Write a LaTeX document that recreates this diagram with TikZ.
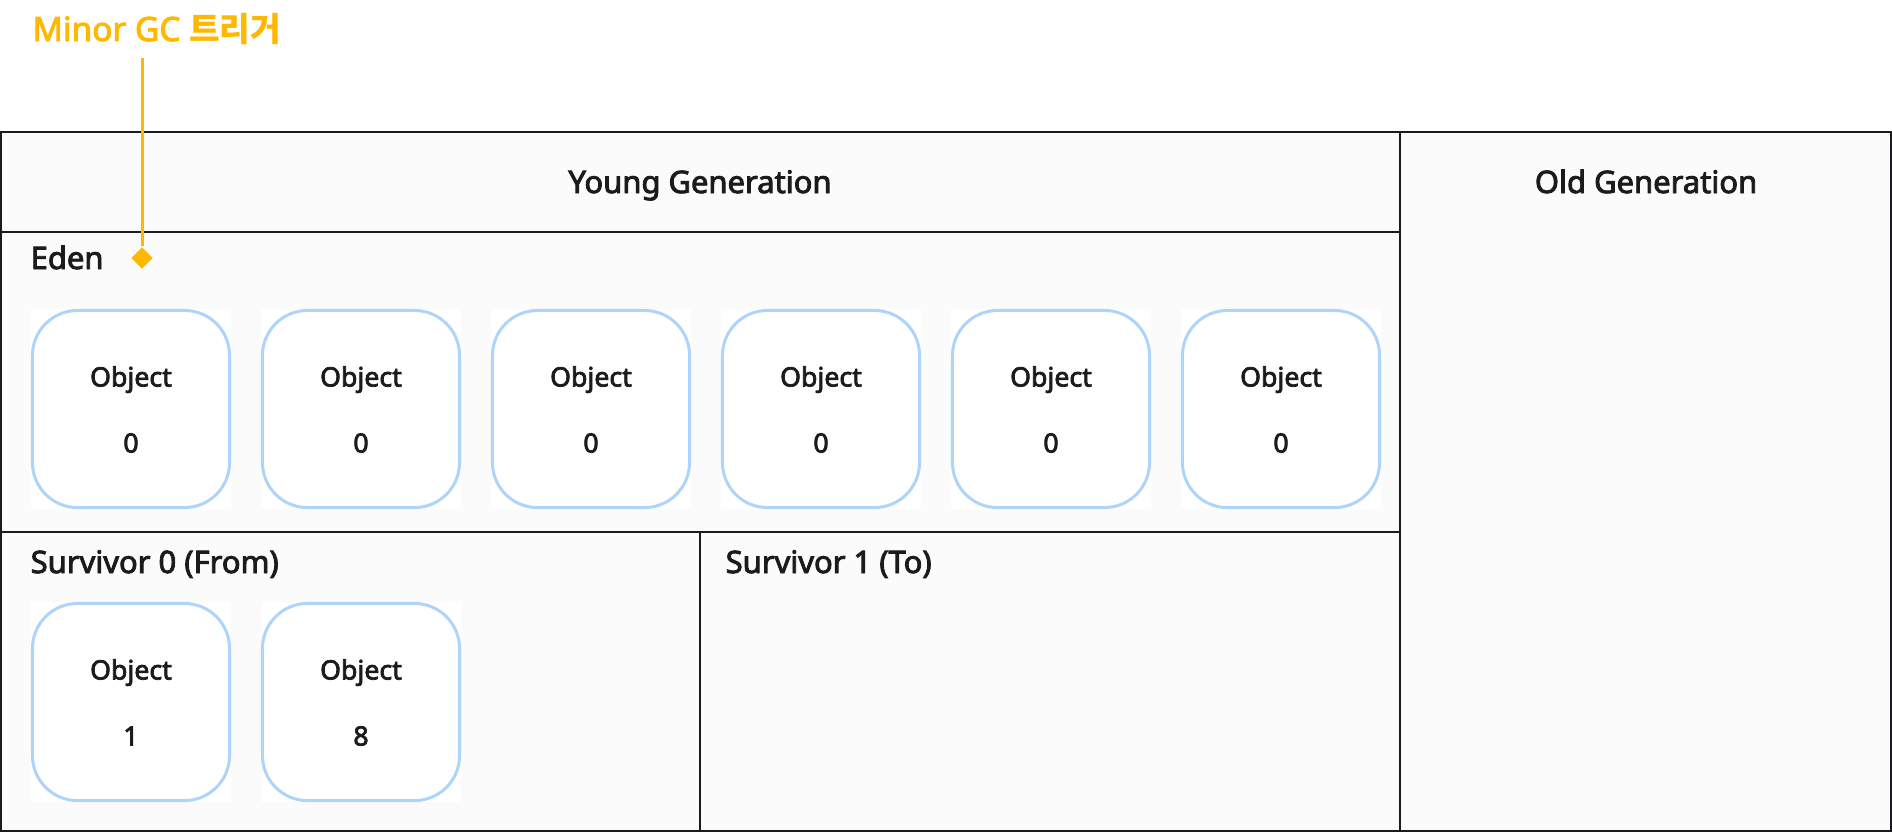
\documentclass[tikz,border=0pt]{standalone}
\usepackage{fontspec}
\setmainfont{Noto Sans}[AutoFakeBold=2.8]
\newfontfamily\krfont{Noto Sans CJK KR}
\usetikzlibrary{shapes.geometric}

\definecolor{edgegray}{HTML}{1B1B1D}
\definecolor{heapbg}{HTML}{FBFBFB}
\definecolor{objblue}{HTML}{AED4FB}
\definecolor{gcyellow}{HTML}{FFB800}

\tikzset{
  heapline/.style={draw=edgegray, line width=0.02cm},
  heaptitle/.style={inner sep=0pt, anchor=base, text=edgegray, font=\fontsize{8.8}{10}\selectfont\bfseries},
  spacelabel/.style={heaptitle, anchor=base west},
  objbox/.style={draw=objblue, line width=0.03cm, rounded corners=0.45cm,
    minimum width=1.97cm, minimum height=1.97cm, inner sep=0pt},
  objtext/.style={inner sep=0pt, anchor=base, text=edgegray, font=\fontsize{7.6}{9}\selectfont\bfseries},
}

\begin{document}
\begin{tikzpicture}[x=0.01cm, y=-0.01cm]
  \useasboundingbox (0,0) rectangle (1892,832);
  % heap areas
  \fill[heapbg] (1,132) rectangle (1891,831);
  \draw[heapline] (1,132) rectangle (1891,831);
  \draw[heapline] (1400,132) -- (1400,831);
  \draw[heapline] (1,232) -- (1400,232);
  \draw[heapline] (1,532) -- (1400,532);
  \draw[heapline] (700,532) -- (700,831);

  \node[heaptitle] (young) at (700,193) {Young Generation};
  \node[heaptitle] (old) at (1646,193) {Old Generation};
  \node[spacelabel] (eden) at (30,269) {Eden};
  \node[spacelabel] (from) at (30,573) {Survivor 0 (From)};
  \node[spacelabel] (to) at (725,573) {Survivor 1 (To)};

  % eden objects
  \foreach \i in {0,...,5}{
    \fill[white] ({31+230*\i},309) rectangle ++(200,200);
    \node[objbox] (eobj\i) at ({131+230*\i},409) {};
    \node[objtext] at ([yshift=0.225cm]eobj\i) {Object};
    \node[objtext] at ([yshift=-0.435cm]eobj\i) {0};
  }

  % survivor objects
  \foreach \i/\age in {0/1,1/8}{
    \fill[white] ({31+230*\i},602) rectangle ++(200,200);
    \node[objbox] (sobj\i) at ({131+230*\i},702) {};
    \node[objtext] at ([yshift=0.225cm]sobj\i) {Object};
    \node[objtext] at ([yshift=-0.435cm]sobj\i) {\age};
  }

  % minor gc trigger
  \node[inner sep=0pt, anchor=base west, text=gcyellow, font=\fontsize{9.5}{11}\selectfont\bfseries] (trigger) at (32,41) {Minor GC {\krfont\bfseries 트리거}};
  \coordinate (gctop) at (142,58);
  \node[diamond, fill=gcyellow, inner sep=0pt, minimum size=0.22cm] (gcmark) at (142,258) {};
  \draw[gcyellow, line width=0.03cm] (gctop) -- (gcmark);
\end{tikzpicture}
\end{document}
